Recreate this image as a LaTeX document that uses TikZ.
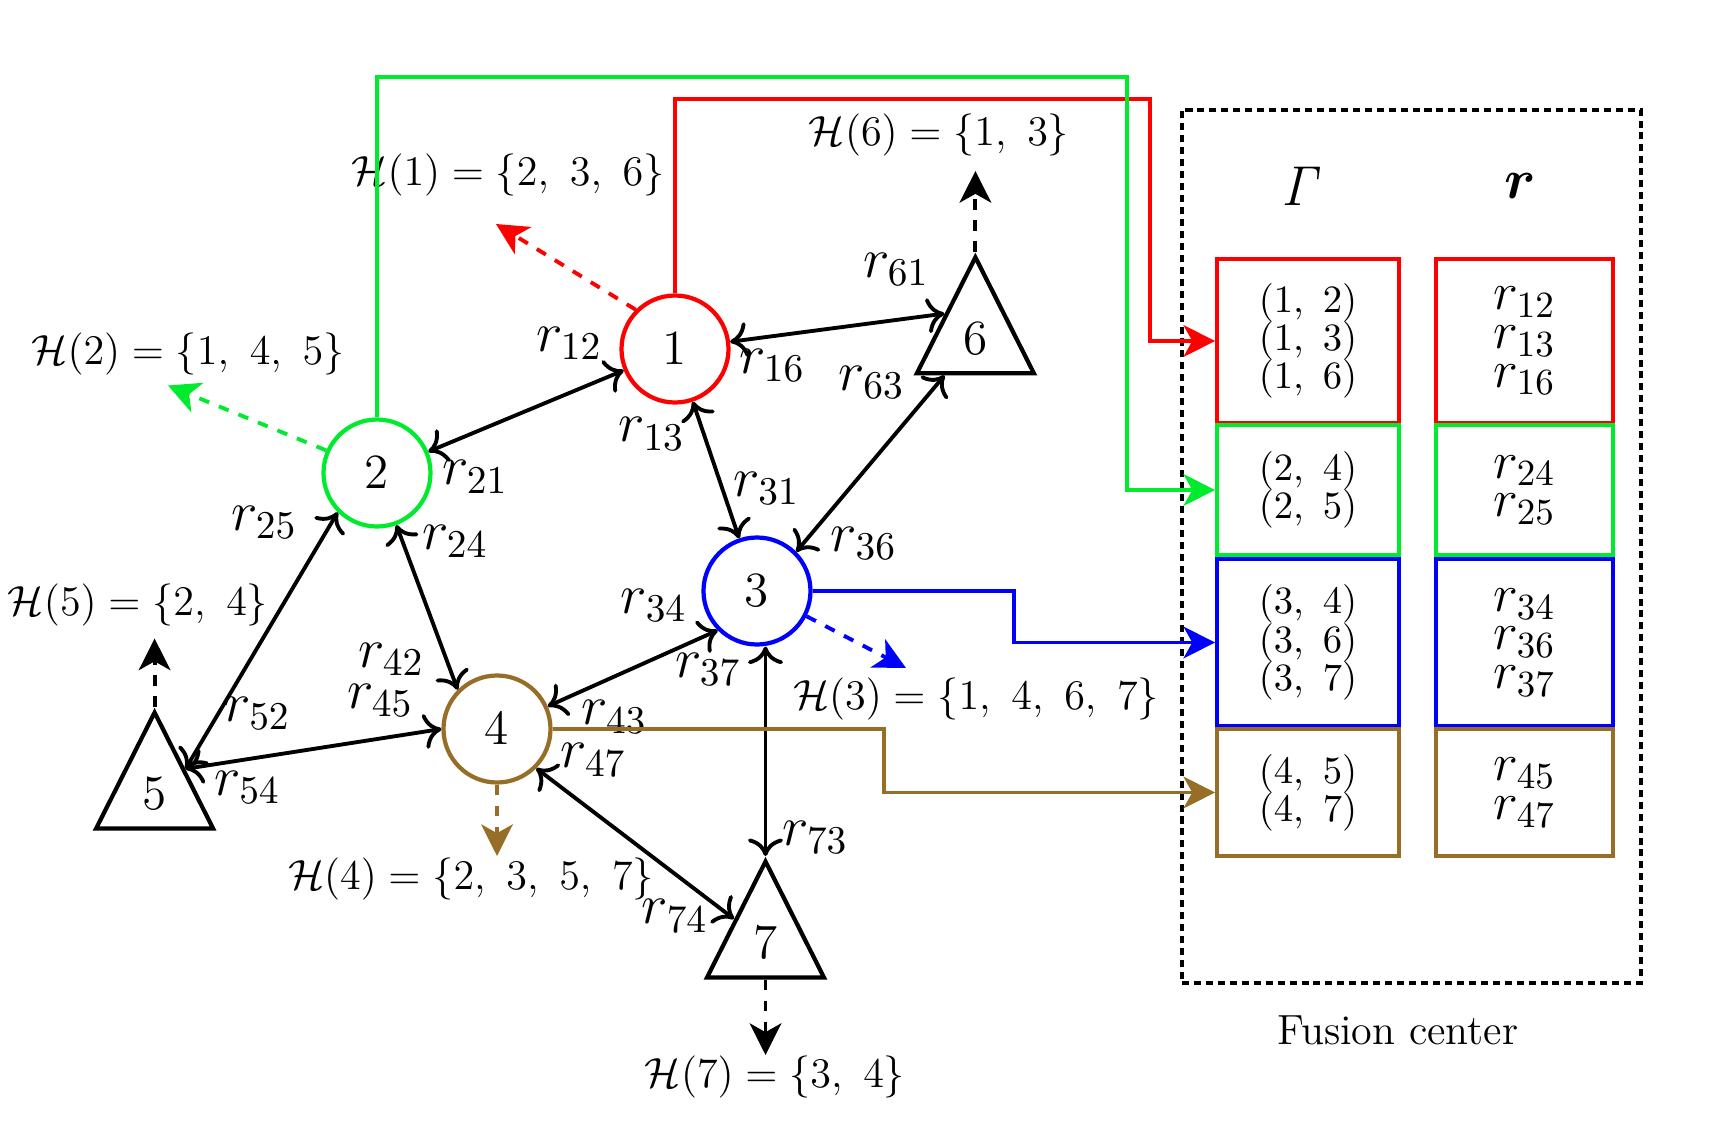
\RequirePackage{fix-cm}
\documentclass[tikz,border=0pt]{standalone}
\usepackage{amsmath}
\usepackage{amsfonts}
\usepackage{tikz}
\usepackage{xcolor}
\usetikzlibrary{shapes,arrows.meta}

\definecolor{fcgreen}{RGB}{0,235,45}
\definecolor{fcbrown}{RGB}{150,110,40}
\setlength{\lineskiplimit}{-5pt}

\begin{document}
\begin{tikzpicture}[
  agent/.style={circle, line width=1.2pt, minimum size=1.07cm, font=\fontsize{14}{16}\selectfont},
  sensor/.style={draw, line width=1.2pt, isosceles triangle, isosceles triangle stretches, shape border rotate=90,
    minimum width=1.17cm, minimum height=1.16cm, font=\fontsize{14}{16}\selectfont},
  link/.style={line width=1.1pt, <->, >={To[length=5pt,width=10pt]}},
  share/.style={line width=1.1pt, dashed, -{Stealth[length=9pt,width=9pt,inset=2.5pt]}},
  report/.style={line width=1.1pt, -{Stealth[length=9pt,width=9pt,inset=2.5pt]}},
  rlab/.style={font=\fontsize{16}{18}\selectfont},
  hlab/.style={font=\fontsize{12}{14}\selectfont},
  cell/.style={line width=1.2pt, align=center, font=\fontsize{11}{10.9}\selectfont},
  rcell/.style={cell, font=\fontsize{15}{11}\selectfont}
]
\tikzstyle{every node}+=[inner sep=0pt]
\useasboundingbox (0,0) rectangle (17.32,-11.46);

% agents and sensors
\node [agent, draw=red] (n1) at (6.75,-3.49) {$1$};
\node [agent, draw=fcgreen] (n2) at (3.77,-4.73) {$2$};
\node [agent, draw=blue] (n3) at (7.57,-5.91) {$3$};
\node [agent, draw=fcbrown] (n4) at (4.97,-7.29) {$4$};
\node [sensor, anchor=apex] (n5) at (1.546,-7.07) {$5$};
\node [sensor, anchor=apex] (n6) at (9.754,-2.518) {$6$};
\node [sensor, anchor=apex] (n7) at (7.655,-8.56) {$7$};

% links
\draw [link] (n1) -- (n2);
\draw [link] (n1) -- (n3);
\draw [link] (n1) -- (n6.left side);
\draw [link] (n3.north east) -- (n6);
\draw [link] (n2) -- (n4.north west);
\draw [link] (n2.south west) -- (n5.right side);
\draw [link] (n4.west) -- (n5.right side);
\draw [link] (n3.south west) -- (n4);
\draw [link] (n4.south east) -- (n7);
\draw [link] (n7.apex) -- (n7.apex |- n3.south);

% link labels
\node [rlab] (r12) at (5.69,-3.435) {$r_{12}$};
\node [rlab] (r21) at (4.75,-4.77) {$r_{21}$};
\node [rlab] (r16) at (7.72,-3.656) {$r_{16}$};
\node [rlab] (r61) at (8.96,-2.695) {$r_{61}$};
\node [rlab] (r13) at (6.517,-4.341) {$r_{13}$};
\node [rlab] (r31) at (7.666,-4.882) {$r_{31}$};
\node [rlab] (r63) at (8.715,-3.822) {$r_{63}$};
\node [rlab] (r36) at (8.638,-5.435) {$r_{36}$};
\node [rlab] (r25) at (2.64,-5.225) {$r_{25}$};
\node [rlab] (r24) at (4.551,-5.413) {$r_{24}$};
\node [rlab] (r52) at (2.574,-7.136) {$r_{52}$};
\node [rlab] (r54) at (2.474,-7.876) {$r_{54}$};
\node [rlab] (r42) at (3.91,-6.594) {$r_{42}$};
\node [rlab] (r45) at (3.80,-7.003) {$r_{45}$};
\node [rlab] (r34) at (6.539,-6.053) {$r_{34}$};
\node [rlab] (r37) at (7.08,-6.694) {$r_{37}$};
\node [rlab] (r43) at (6.142,-7.169) {$r_{43}$};
\node [rlab] (r47) at (5.932,-7.60) {$r_{47}$};
\node [rlab] (r73) at (8.152,-8.373) {$r_{73}$};
\node [rlab] (r74) at (6.749,-9.157) {$r_{74}$};

% shared neighbour sets
\coordinate (h1) at (4.96,-2.24);
\coordinate (h2) at (1.68,-3.855);
\coordinate (h3) at (9.06,-6.68);
\coordinate (h4) at (4.97,-8.56);
\coordinate (h5) at (1.546,-6.385);
\coordinate (h6) at (9.754,-1.71);
\coordinate (h7) at (7.655,-10.55);
\draw [share, red] (n1.north west) -- (h1);
\draw [share, fcgreen] (n2.156) -- (h2);
\draw [share, blue] (n3.-27) -- (h3);
\draw [share, fcbrown] (n4.south) -- (h4);
\draw [share] (n5.apex) -- (h5);
\draw [share] (n6.apex) -- (h6);
\draw [share] (n7.lower side) -- (h7);
\node [hlab] (H1) at (5.08,-1.745) {$\mathcal{H}(1) = \{2,\ 3,\ 6\}$};
\node [hlab] (H2) at (1.88,-3.535) {$\mathcal{H}(2) = \{1,\ 4,\ 5\}$};
\node [hlab] (H3) at (9.76,-6.99) {$\mathcal{H}(3) = \{1,\ 4,\ 6,\ 7\}$};
\node [hlab] (H4) at (4.71,-8.79) {$\mathcal{H}(4) = \{2,\ 3,\ 5,\ 7\}$};
\node [hlab] (H5) at (1.38,-6.05) {$\mathcal{H}(5) = \{2,\ 4\}$};
\node [hlab] (H6) at (9.39,-1.35) {$\mathcal{H}(6) = \{1,\ 3\}$};
\node [hlab] (H7) at (7.75,-10.77) {$\mathcal{H}(7) = \{3,\ 4\}$};

% fusion center
\node [draw, line width=1.3pt, dash pattern=on 2pt off 1.4pt, minimum width=4.59cm, minimum height=8.73cm] (fc) at (14.115,-5.465) {};
\node [font=\fontsize{12}{14}\selectfont] (fclab) at (13.98,-10.3) {Fusion center};
\node [font=\fontsize{16}{18}\selectfont] (hg) at (13.03,-1.86) {$\mathit{\Gamma}$};
\node [font=\fontsize{16}{18}\selectfont] (hr) at (15.2,-1.86) {$\boldsymbol{r}$};

\node [cell, draw=red, minimum width=1.815cm, minimum height=1.645cm] (g1) at (13.08,-3.41) {$(1,\ 2)$\\$(1,\ 3)$\\$(1,\ 6)$};
\node [cell, draw=fcgreen, minimum width=1.815cm, minimum height=1.295cm] (g2) at (13.08,-4.90) {$(2,\ 4)$\\$(2,\ 5)$};
\node [cell, draw=blue, minimum width=1.815cm, minimum height=1.67cm] (g3) at (13.08,-6.425) {$(3,\ 4)$\\$(3,\ 6)$\\$(3,\ 7)$};
\node [cell, draw=fcbrown, minimum width=1.815cm, minimum height=1.27cm] (g4) at (13.08,-7.925) {$(4,\ 5)$\\$(4,\ 7)$};
\node [rcell, draw=red, minimum width=1.77cm, minimum height=1.645cm] (v1) at (15.245,-3.41) {$r_{12}$\\$r_{13}$\\$r_{16}$};
\node [rcell, draw=fcgreen, minimum width=1.77cm, minimum height=1.295cm] (v2) at (15.245,-4.90) {$r_{24}$\\$r_{25}$};
\node [rcell, draw=blue, minimum width=1.77cm, minimum height=1.67cm] (v3) at (15.245,-6.425) {$r_{34}$\\$r_{36}$\\$r_{37}$};
\node [rcell, draw=fcbrown, minimum width=1.77cm, minimum height=1.27cm] (v4) at (15.245,-7.925) {$r_{45}$\\$r_{47}$};

% reports to the fusion center
\coordinate (redup) at (11.50,-0.994);
\coordinate (greenup) at (11.27,-0.773);
\coordinate (bluex) at (10.14,0);
\coordinate (brownx) at (8.84,0);
\draw [report, red] (n1.north) |- (redup) |- (g1.west);
\draw [report, fcgreen] (n2.north) |- (greenup) |- (g2.west);
\draw [report, blue] (n3.east) -| (bluex |- g3.west) -- (g3.west);
\draw [report, fcbrown] (n4.east) -| (brownx |- g4.west) -- (g4.west);
\end{tikzpicture}
\end{document}
